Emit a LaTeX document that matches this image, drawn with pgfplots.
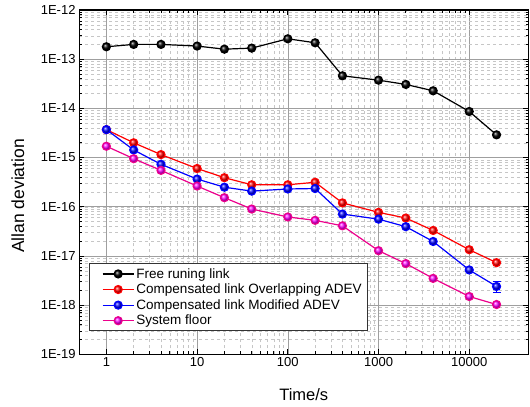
\documentclass[border=0pt]{standalone}
\usepackage{pgfplots}
\pgfplotsset{compat=1.18}
\usepackage{fontspec}
\setmainfont{Liberation Sans}

\begin{document}
\begin{tikzpicture}
\begin{axis}[
  scale only axis,
  width=449pt, height=344pt,
  xmode=log, ymode=log,
  xmin=0.5, xmax=45000,
  ymin=1e-19, ymax=1e-12,
  xtick={1,10,100,1000,10000},
  xticklabels={1,10,100,1000,10000},
  ytick={1e-19,1e-18,1e-17,1e-16,1e-15,1e-14,1e-13,1e-12},
  yticklabels={1E-19,1E-18,1E-17,1E-16,1E-15,1E-14,1E-13,1E-12},
  grid=both,
  major grid style={gray!75, line width=0.6pt},
  minor grid style={gray!45, dashed, line width=0.4pt},
  axis line style={black, line width=1.1pt},
  tick style={black, line width=0.7pt},
  major tick length=5pt, minor tick length=3pt,
  tick label style={font=\fontsize{13}{15}\selectfont},
  xlabel={Time/s},
  ylabel={Allan deviation},
  xlabel style={font=\fontsize{16.5}{19}\selectfont,
    at={(axis description cs:0.5,-0.118)}, anchor=center},
  ylabel style={font=\fontsize{17.5}{20}\selectfont,
    at={(axis description cs:-0.136,0.46)}, anchor=center},
  legend style={at={(0.022,0.067)}, anchor=south west, draw=black!80,
    line width=0.8pt, font=\fontsize{13.5}{16}\selectfont,
    row sep=0.3pt, inner xsep=4pt, inner ysep=2.5pt},
  legend cell align=left,
  legend image code/.code={\path (-0.3cm,0cm);
    \draw[mark repeat=2,mark phase=2]
    plot coordinates {(0cm,0cm) (0.55cm,0cm) (1.1cm,0cm)};},
  every axis plot/.append style={line width=1.2pt, mark=ball, mark size=4pt},
]
\addplot[black, mark options={ball color=black}] coordinates {
  (1,1.79e-13) (2,2.0e-13) (4,2.0e-13) (10,1.85e-13) (20,1.6e-13)
  (40,1.68e-13) (100,2.6e-13) (200,2.16e-13) (400,4.6e-14)
  (1000,3.75e-14) (2000,3.07e-14) (4000,2.28e-14) (10000,8.65e-15)
  (20000,2.9e-15)};
\addlegendentry{Free runing link}
\addplot[red, mark options={ball color=red}] coordinates {
  (1,3.7e-15) (2,2.0e-15) (4,1.15e-15) (10,6.0e-16) (20,3.9e-16)
  (40,2.8e-16) (100,2.8e-16) (200,3.15e-16) (400,1.2e-16)
  (1000,7.7e-17) (2000,5.9e-17) (4000,3.3e-17) (10000,1.34e-17)
  (20000,7.3e-18)};
\addlegendentry{Compensated link Overlapping ADEV}
\addplot[blue, mark options={ball color=blue}] coordinates {
  (1,3.7e-15) (2,1.43e-15) (4,7.3e-16) (10,3.66e-16) (20,2.5e-16)
  (40,2.08e-16) (100,2.3e-16) (200,2.35e-16) (400,7.1e-17)
  (1000,5.6e-17) (2000,3.94e-17) (4000,1.97e-17) (10000,5.2e-18)
  (20000,2.4e-18)};
\addlegendentry{Compensated link Modified ADEV}
\addplot[magenta, mark options={ball color=magenta}] coordinates {
  (1,1.7e-15) (2,9.5e-16) (4,5.5e-16) (10,2.64e-16) (20,1.53e-16)
  (40,9.0e-17) (100,6.2e-17) (200,5.3e-17) (400,4.1e-17)
  (1000,1.28e-17) (2000,7.0e-18) (4000,3.5e-18) (10000,1.5e-18)
  (20000,1.03e-18)};
\addlegendentry{System floor}
\addplot[blue, forget plot, mark=none, line width=0.8pt, draw=none,
  error bars/.cd, y dir=both, y explicit,
  error bar style={blue, line width=0.8pt}]
  coordinates {(20000,2.4e-18) +- (0,0.6e-18)};
\end{axis}
\pgfresetboundingbox
\path[use as bounding box]
  ([xshift=-79pt,yshift=-52pt]current axis.south west) rectangle
  ([xshift=1.5pt,yshift=10pt]current axis.north east);
\end{tikzpicture}
\end{document}
